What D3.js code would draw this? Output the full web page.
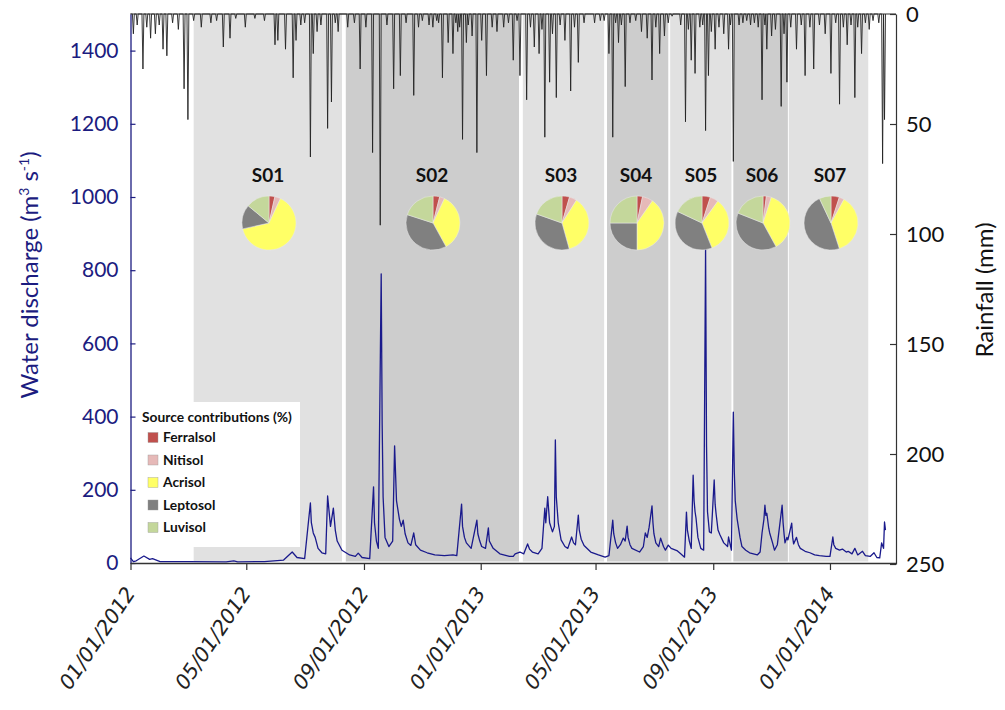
<!DOCTYPE html>
<html>
<head>
<meta charset="utf-8">
<script src="https://cdn.jsdelivr.net/npm/d3@7"></script>
<style>
  body { margin: 0; background: #fff; }
  svg { display: block; }
</style>
</head>
<body>
<div id="chart"></div>
<script>
// day offsets are counted from 01/01/2012
const startDate = new Date(2012, 0, 1);
const endDate = new Date(2014, 2, 11);

// Water discharge (m3/s): [day, value]
const discharge = [
  [0, 14], [3, 4], [6, 6], [14, 19], [20, 10], [23, 12], [31, 4], [60, 4], [100, 3], [108, 6],
  [112, 3], [140, 4], [160, 8], [169, 30], [174, 15], [182, 12], [188, 164], [189, 110], [191, 82], [193, 70],
  [196, 40], [200, 28], [204, 25], [206, 183], [209, 100], [212, 150], [214, 90], [216, 60], [221, 35], [229, 22],
  [235, 18], [238, 27], [242, 15], [250, 12], [254, 208], [255, 110], [257, 60], [259, 40], [262, 790], [263, 380],
  [264, 180], [266, 70], [270, 45], [274, 60], [276, 320], [278, 170], [281, 120], [283, 100], [285, 117], [287, 80],
  [290, 55], [293, 48], [296, 82], [298, 50], [303, 35], [310, 28], [318, 22], [328, 20], [337, 22], [341, 20],
  [346, 161], [347, 100], [349, 70], [351, 55], [356, 40], [362, 117], [363, 80], [365, 60], [367, 45], [371, 40],
  [374, 96], [375, 60], [379, 40], [386, 25], [396, 18], [400, 18], [402, 25], [407, 30], [411, 25], [415, 52],
  [417, 38], [420, 30], [426, 25], [430, 40], [433, 150], [434, 110], [436, 181], [438, 110], [441, 85], [443, 100],
  [444, 336], [445, 180], [447, 110], [450, 63], [454, 45], [457, 40], [461, 71], [463, 55], [465, 50], [468, 131],
  [469, 90], [471, 65], [474, 48], [481, 30], [489, 22], [496, 16], [500, 20], [504, 117], [505, 80], [507, 55],
  [509, 40], [512, 50], [515, 68], [517, 60], [519, 101], [520, 70], [522, 50], [524, 40], [532, 30], [536, 45],
  [538, 82], [540, 70], [542, 98], [545, 156], [546, 110], [547, 80], [549, 55], [552, 45], [554, 68], [557, 45],
  [559, 35], [562, 49], [565, 40], [571, 34], [575, 25], [579, 16], [581, 139], [582, 90], [584, 60], [586, 40],
  [588, 240], [589, 170], [590, 140], [591, 123], [593, 70], [596, 40], [599, 35], [601, 860], [602, 320], [603, 140],
  [605, 85], [607, 82], [610, 227], [611, 160], [612, 134], [614, 90], [616, 77], [620, 55], [624, 45], [625, 71],
  [628, 35], [630, 412], [631, 250], [632, 170], [634, 120], [637, 70], [639, 45], [643, 35], [647, 28], [655, 22],
  [658, 30], [660, 82], [662, 120], [663, 158], [664, 130], [665, 136], [667, 95], [668, 82], [671, 55], [673, 35],
  [676, 50], [681, 158], [682, 110], [683, 80], [684, 55], [686, 70], [687, 63], [691, 109], [692, 70], [693, 52],
  [696, 70], [698, 50], [700, 40], [705, 32], [710, 28], [715, 22], [720, 20], [727, 18], [731, 18], [734, 71],
  [735, 50], [737, 40], [741, 35], [744, 38], [748, 30], [750, 32], [754, 25], [757, 40], [760, 22], [765, 32],
  [768, 20], [773, 18], [777, 28], [780, 15], [783, 14], [785, 55], [787, 40], [788, 112], [789, 90]
];

// Rainfall (mm) on rainy days: [day, value]; other days are 0
const rainfall = [
  [3, 9], [7, 5], [13, 25], [17, 6], [21, 11], [26, 9], [30, 5], [34, 16], [38, 19], [44, 4],
  [50, 7], [56, 34], [60, 48], [66, 3], [74, 6], [84, 4], [90, 3], [97, 15], [104, 11], [110, 2],
  [120, 6], [130, 2], [140, 3], [151, 14], [154, 12], [162, 16], [170, 29], [173, 12], [178, 5], [182, 4],
  [188, 65], [191, 18], [195, 8], [199, 5], [206, 52], [210, 40], [214, 4], [217, 8], [227, 6], [234, 4],
  [240, 25], [246, 6], [253, 63], [261, 96], [268, 5], [275, 34], [282, 28], [288, 4], [296, 37], [301, 6],
  [305, 3], [312, 5], [316, 6], [320, 3], [322, 4], [326, 29], [332, 13], [337, 18], [340, 4], [342, 8],
  [344, 6], [347, 57], [351, 13], [353, 5], [357, 10], [362, 63], [367, 12], [372, 28], [378, 6], [383, 8],
  [390, 6], [395, 4], [400, 21], [404, 3], [407, 28], [414, 39], [418, 6], [422, 15], [427, 18], [430, 7],
  [433, 56], [438, 31], [441, 9], [445, 38], [449, 5], [454, 12], [460, 35], [464, 6], [468, 22], [474, 4],
  [485, 4], [491, 3], [495, 3], [500, 18], [504, 56], [507, 4], [510, 13], [513, 5], [517, 33], [522, 4],
  [528, 3], [534, 8], [540, 11], [545, 30], [549, 6], [553, 18], [558, 10], [562, 4], [566, 1], [575, 5],
  [580, 49], [583, 7], [586, 21], [590, 27], [595, 6], [598, 5], [601, 53], [604, 28], [607, 8], [611, 16],
  [615, 6], [620, 9], [625, 16], [627, 5], [630, 67], [636, 5], [640, 4], [644, 3], [648, 5], [652, 4],
  [656, 6], [660, 39], [663, 5], [665, 16], [670, 10], [674, 7], [680, 42], [683, 9], [686, 31], [690, 6],
  [696, 16], [701, 5], [705, 28], [710, 6], [714, 25], [720, 5], [726, 9], [732, 27], [737, 4], [741, 41],
  [745, 6], [749, 14], [753, 5], [757, 38], [760, 6], [764, 18], [768, 4], [772, 7], [776, 3], [782, 4],
  [786, 68], [788, 48]
];

// sampling periods
const periods = ["S01", "S02", "S03", "S04", "S05", "S06", "S07"];
const periodStart = ["2012-03-07", "2012-08-13", "2013-02-14", "2013-05-13", "2013-07-18", "2013-09-22", "2013-11-19"];
const periodEnd = ["2012-08-09", "2013-02-10", "2013-05-10", "2013-07-16", "2013-09-20", "2013-11-18", "2014-02-10"];

// source contributions (%) per period
const sources = ["Ferralsol", "Nitisol", "Acrisol", "Leptosol", "Luvisol"];
const sourceColors = ["#c0504d", "#e6b9b8", "#ffff66", "#808080", "#c4d79b"];
const contributions = [
  [3.5, 3.5, 64.5, 14.5, 14],
  [4, 3, 35, 38, 20],
  [4.5, 4.5, 36.7, 34.7, 19.6],
  [3.3, 6.4, 40.3, 25, 25],
  [5, 5, 34, 38, 18],
  [2, 3, 37, 39, 19],
  [5, 3, 37, 48, 7]
];

const dischargeTicks = [0, 200, 400, 600, 800, 1000, 1200, 1400];
const rainTicks = [0, 50, 100, 150, 200, 250];
const dateTicks = ["2012-01-01", "2012-05-01", "2012-09-01", "2013-01-01", "2013-05-01", "2013-09-01", "2014-01-01"];

const width = 1005, height = 710;
const plotLeft = 130.5, plotRight = 896, plotTop = 14, plotBottom = 563;
const navy = "#1c1c80";

const parse = d3.timeParse("%Y-%m-%d");
const dayDate = d => d3.timeDay.offset(startDate, d);

const svg = d3.select("#chart").append("svg")
  .attr("width", width)
  .attr("height", height);

// Scales
const x = d3.scaleTime().domain([startDate, endDate]).range([plotLeft, plotRight]);
const yQ = d3.scaleLinear().domain([0, 1500]).range([plotBottom, plotTop]);
const yR = d3.scaleLinear().domain([0, 250]).range([plotTop, plotBottom + 1]);

// Shaded periods
svg.append("g").selectAll("rect")
  .data(periods)
  .enter().append("rect")
  .attr("x", (d, i) => x(parse(periodStart[i])))
  .attr("width", (d, i) => x(parse(periodEnd[i])) - x(parse(periodStart[i])))
  .attr("y", plotTop)
  .attr("height", plotBottom - plotTop - 1.5)
  .attr("fill", (d, i) => i % 2 === 0 ? "#e1e1e1" : "#cdcdcd");

// Legend box (white, drawn over the shading)
const legend = svg.append("g").attr("transform", "translate(131, 402)");
legend.append("rect")
  .attr("width", 169).attr("height", 145)
  .attr("fill", "#fff");
legend.append("text")
  .attr("x", 11).attr("y", 20)
  .attr("font-family", "Lato, 'Open Sans', sans-serif")
  .attr("font-weight", "bold")
  .attr("font-size", 13.8)
  .attr("fill", "#111")
  .text("Source contributions (%)");
sources.forEach((s, i) => {
  const yy = 40 + i * 22.5;
  legend.append("rect")
    .attr("x", 17).attr("y", yy - 9.5)
    .attr("width", 10).attr("height", 10)
    .attr("fill", sourceColors[i])
    .attr("stroke", "#999").attr("stroke-width", 0.4);
  legend.append("text")
    .attr("x", 32).attr("y", yy)
    .attr("font-family", "Lato, 'Open Sans', sans-serif")
    .attr("font-weight", "bold")
    .attr("font-size", 13.8)
    .attr("fill", "#111")
    .text(s);
});

// Rainfall line (daily, zero on days without rain)
const rainByDay = new Map(rainfall);
const rainSeries = d3.range(0, 790).map(d => [d, rainByDay.get(d) || 0]);
svg.append("path")
  .datum(rainSeries)
  .attr("fill", "none")
  .attr("stroke", "#222")
  .attr("stroke-width", 0.9)
  .attr("d", d3.line().x(d => x(dayDate(d[0]))).y(d => yR(d[1])));

// Discharge line
svg.append("path")
  .datum(discharge)
  .attr("fill", "none")
  .attr("stroke", "#1a1a8c")
  .attr("stroke-width", 1.3)
  .attr("stroke-linejoin", "round")
  .attr("d", d3.line().x(d => x(dayDate(d[0]))).y(d => yQ(d[1])));

// Pies
const pie = d3.pie().sort(null).value(d => d);
const arc = d3.arc().innerRadius(0).outerRadius(27);
const pieY = 223;
const pieXs = [269, 433, 562, 637, 702, 763, 831];
periods.forEach((p, i) => {
  const g = svg.append("g").attr("transform", `translate(${pieXs[i]}, ${pieY})`);
  g.selectAll("path")
    .data(pie(contributions[i]))
    .enter().append("path")
    .attr("d", arc)
    .attr("fill", (d, j) => sourceColors[j])
    .attr("stroke", "#e8e8e8")
    .attr("stroke-width", 0.5);
  svg.append("text")
    .attr("x", pieXs[i] - 1)
    .attr("y", 182)
    .attr("text-anchor", "middle")
    .attr("font-family", "Lato, 'Open Sans', sans-serif")
    .attr("font-weight", "bold")
    .attr("font-size", 19)
    .attr("fill", "#111")
    .text(p);
});

// Top border
svg.append("line")
  .attr("x1", plotLeft).attr("x2", plotRight)
  .attr("y1", plotTop).attr("y2", plotTop)
  .attr("stroke", "#333").attr("stroke-width", 1.2);

// Left axis (discharge)
const yAxisL = svg.append("g")
  .attr("transform", `translate(${plotLeft}, 0)`)
  .call(d3.axisLeft(yQ).tickValues(dischargeTicks).tickFormat(d3.format("d"))
    .tickSizeInner(-5).tickSizeOuter(0).tickPadding(12));
yAxisL.select(".domain").attr("stroke", navy).attr("stroke-width", 1.3);
yAxisL.selectAll(".tick line").attr("stroke", navy).attr("stroke-width", 1.2);
yAxisL.selectAll("text")
  .attr("font-family", "Lato, 'Open Sans', sans-serif")
  .attr("font-size", 21)
  .attr("fill", navy);

// Right axis (rainfall)
const yAxisR = svg.append("g")
  .attr("transform", `translate(${plotRight}, 0)`)
  .call(d3.axisRight(yR).tickValues(rainTicks).tickSizeInner(-6).tickSizeOuter(0).tickPadding(10));
yAxisR.select(".domain").attr("stroke", "#333").attr("stroke-width", 1.2);
yAxisR.selectAll(".tick line").attr("stroke", "#333").attr("stroke-width", 1.2);
yAxisR.selectAll("text")
  .attr("font-family", "Lato, 'Open Sans', sans-serif")
  .attr("font-size", 22)
  .attr("fill", "#111");

// Bottom axis (dates)
const xAxis = svg.append("g")
  .attr("transform", `translate(0, ${plotBottom})`)
  .call(d3.axisBottom(x).tickValues(dateTicks.map(parse))
    .tickFormat(d3.timeFormat("%m/%d/%Y")).tickSizeInner(7).tickSizeOuter(0).tickPadding(4));
xAxis.select(".domain").attr("stroke", "#333").attr("stroke-width", 1.3);
xAxis.selectAll(".tick line").attr("stroke", "#333").attr("stroke-width", 1.2);
xAxis.selectAll("text")
  .attr("font-family", "'DejaVu Sans', sans-serif")
  .attr("font-style", "italic")
  .attr("font-size", 20.5)
  .attr("fill", "#222")
  .attr("text-anchor", "end")
  .attr("dy", 0)
  .attr("transform", "translate(-4, 24) rotate(-56)");

// Axis titles
const titleL = svg.append("text")
  .attr("transform", "translate(38, 275) rotate(-90)")
  .attr("text-anchor", "middle")
  .attr("font-family", "Lato, 'Open Sans', sans-serif")
  .attr("font-size", 24)
  .attr("fill", navy);
titleL.append("tspan").text("Water discharge (m");
titleL.append("tspan").attr("dy", -9).attr("font-size", 14).text("3");
titleL.append("tspan").attr("dy", 9).text(" s");
titleL.append("tspan").attr("dy", -9).attr("font-size", 14).text("-1");
titleL.append("tspan").attr("dy", 9).text(")");

svg.append("text")
  .attr("transform", "translate(993, 290) rotate(-90)")
  .attr("text-anchor", "middle")
  .attr("font-family", "Lato, 'Open Sans', sans-serif")
  .attr("font-size", 24)
  .attr("fill", "#111")
  .text("Rainfall (mm)");
</script>
</body>
</html>
